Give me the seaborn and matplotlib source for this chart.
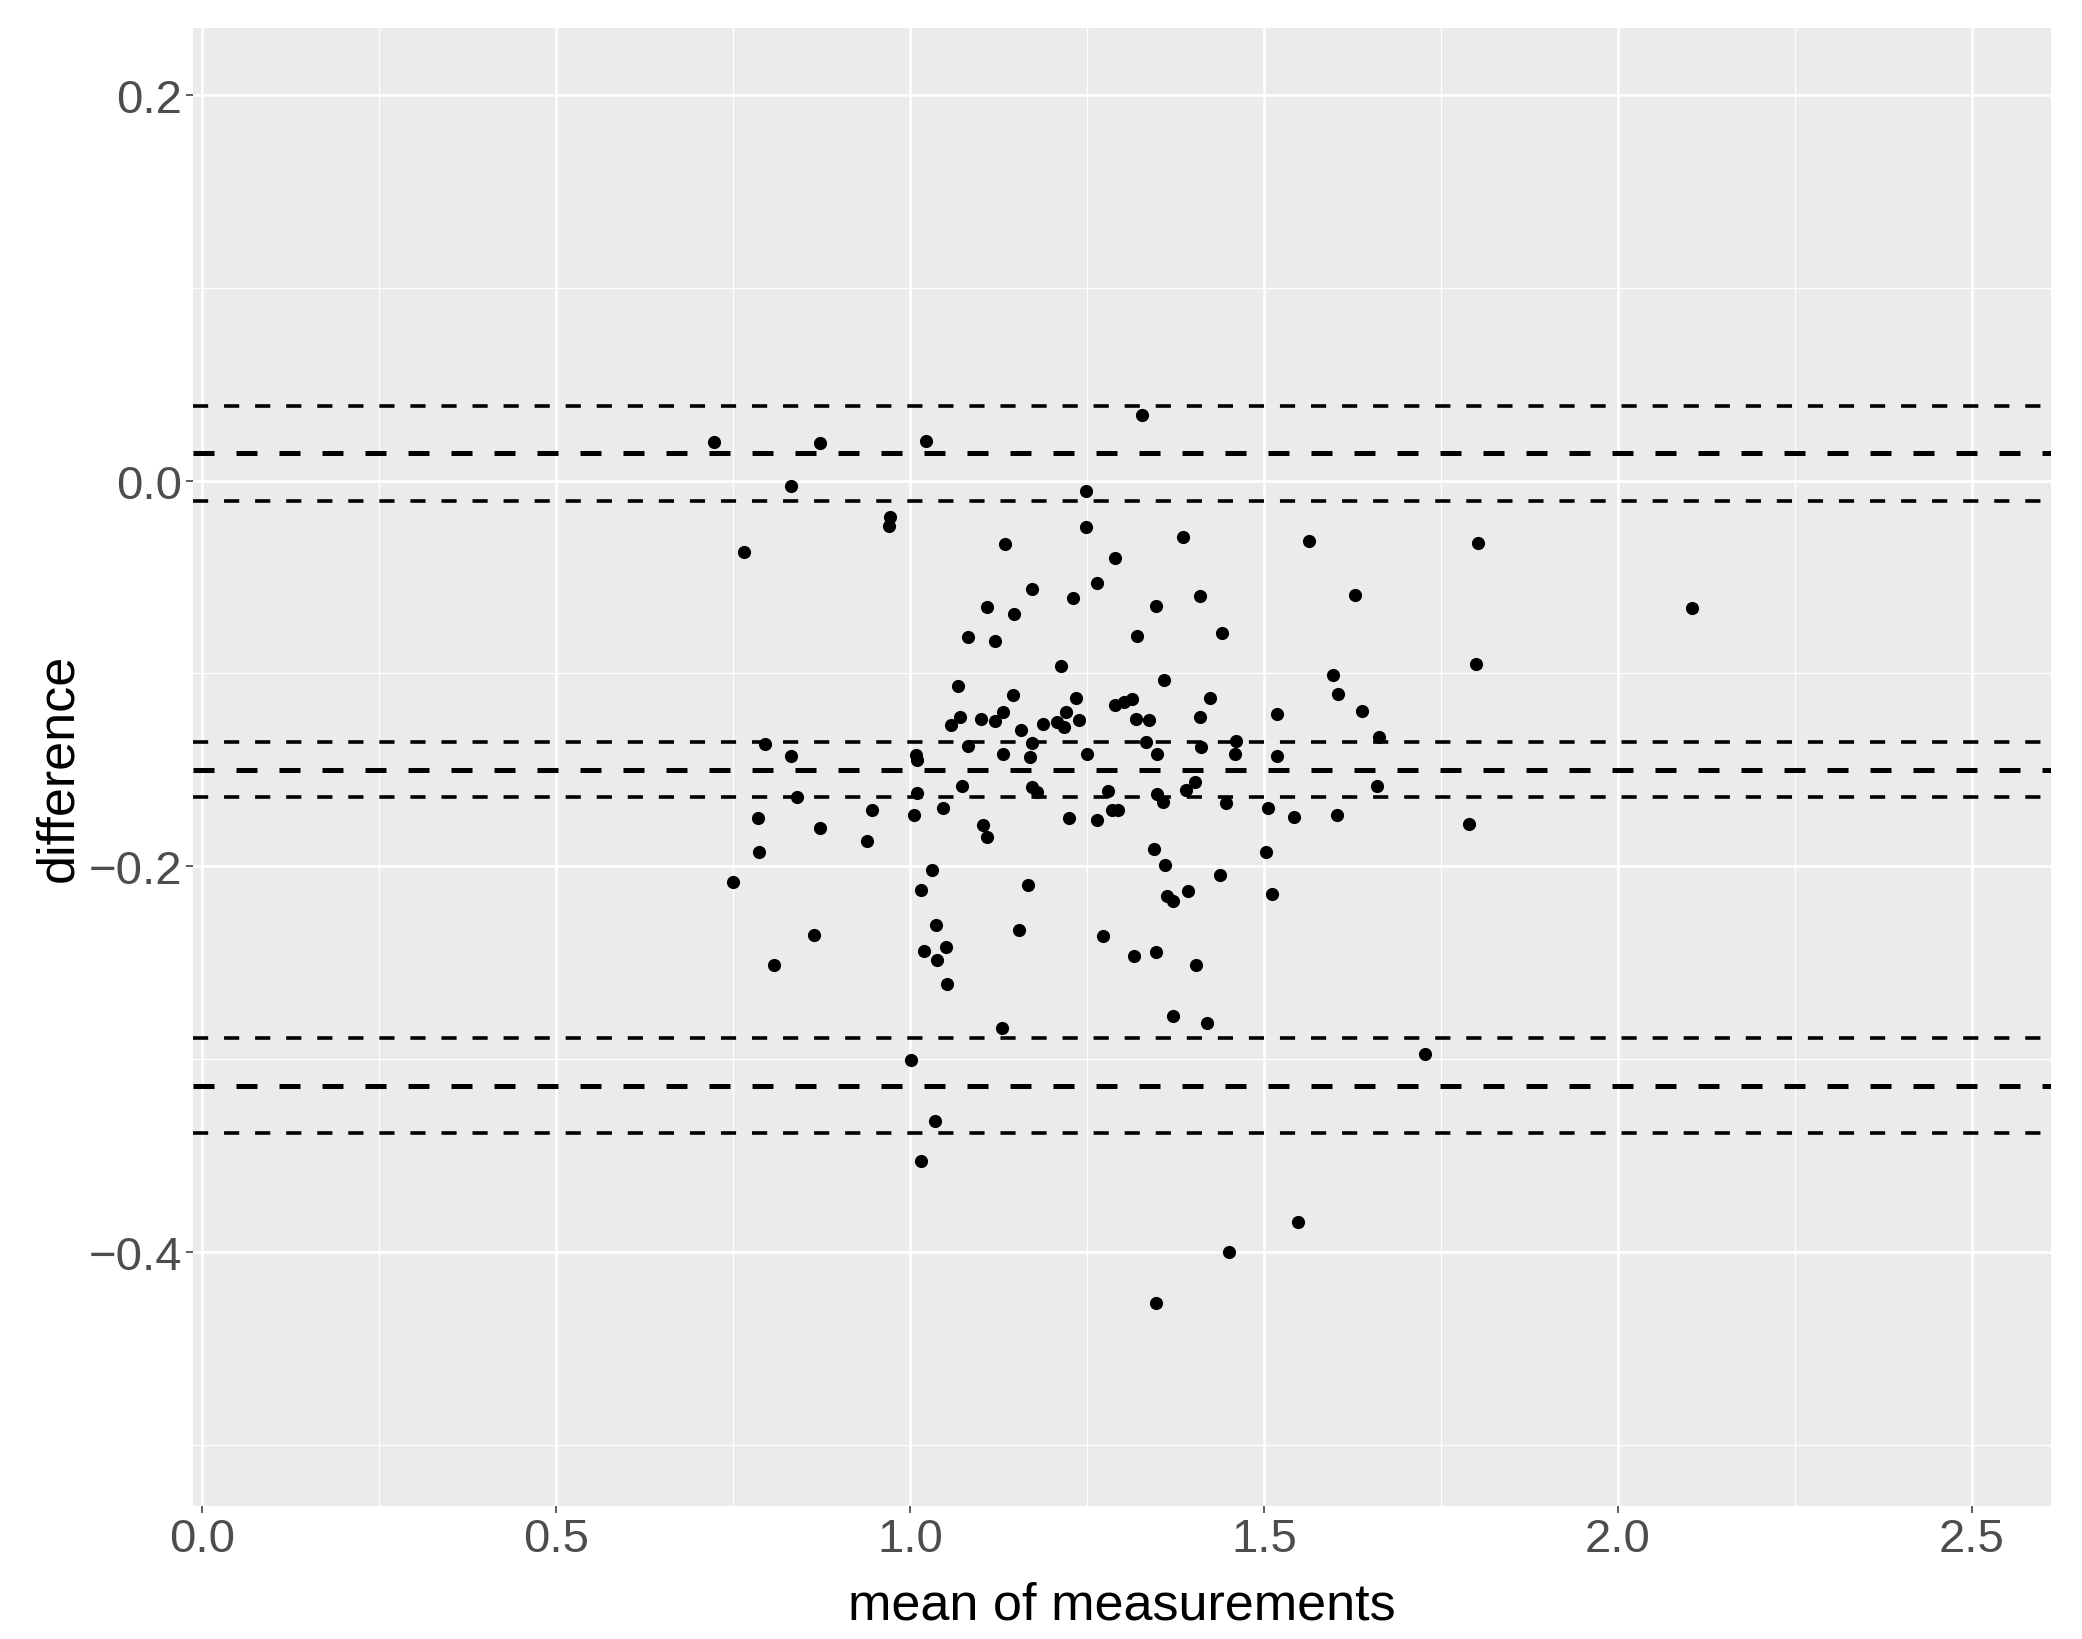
import matplotlib
matplotlib.use("Agg")
import matplotlib.pyplot as plt
import pandas as pd
import seaborn as sns

# Bland-Altman data
mean_of_measurements = [
    0.723, 0.873, 1.022, 0.832, 0.972, 0.970, 0.765,
    0.795, 0.832, 0.841, 0.947, 0.786, 0.873, 0.939, 0.787, 0.750, 0.864, 0.808,
    1.249, 1.249, 1.134, 1.290, 1.264, 1.173, 1.230, 1.109, 1.147, 1.082, 1.120,
    1.213, 1.068, 1.146, 1.235, 1.290, 1.071, 1.058, 1.100, 1.120, 1.131, 1.157,
    1.188, 1.208, 1.217, 1.221, 1.239, 1.082, 1.173, 1.009, 1.131, 1.170, 1.250,
    1.010, 1.073, 1.010, 1.172, 1.180, 1.280, 1.005, 1.047, 1.224, 1.264, 1.285,
    1.294, 1.103, 1.109, 1.031, 1.016, 1.166, 1.037, 1.154, 1.272, 1.020, 1.051,
    1.038, 1.052, 1.130, 1.001, 1.035, 1.016,
    1.327, 1.385, 1.564, 1.410, 1.348, 1.320, 1.441, 1.359, 1.302, 1.314, 1.424,
    1.319, 1.338, 1.409, 1.519, 1.333, 1.461, 1.349, 1.411, 1.459, 1.518,
    1.403, 1.390, 1.349, 1.357, 1.446, 1.505, 1.542, 1.345, 1.503, 1.360, 1.438,
    1.512, 1.393, 1.363, 1.371, 1.317, 1.348, 1.404, 1.371, 1.419,
    1.548, 1.450, 1.348,
    1.802, 1.629, 1.598, 1.800, 1.604, 1.639, 1.662, 1.659, 1.603, 1.790, 1.728,
    2.104,
]
difference = [
    0.0202, 0.0196, 0.0204, -0.0026, -0.0190, -0.0233, -0.0368,
    -0.1366, -0.1430, -0.1639, -0.1706, -0.1749, -0.1801, -0.1869, -0.1927, -0.2080, -0.2355, -0.2510,
    -0.0052, -0.0242, -0.0328, -0.0401, -0.0529, -0.0562, -0.0608, -0.0653, -0.0691, -0.0809, -0.0830,
    -0.0963, -0.1065, -0.1113, -0.1129, -0.1163, -0.1227, -0.1265, -0.1236, -0.1245, -0.1201, -0.1291,
    -0.1262, -0.1253, -0.1279, -0.1201, -0.1241, -0.1374, -0.1360, -0.1421, -0.1418, -0.1435, -0.1418,
    -0.1447, -0.1582, -0.1620, -0.1590, -0.1613, -0.1608, -0.1734, -0.1699, -0.1751, -0.1758, -0.1708,
    -0.1708, -0.1786, -0.1846, -0.2019, -0.2121, -0.2097, -0.2303, -0.2329, -0.2363, -0.2438, -0.2420,
    -0.2486, -0.2611, -0.2840, -0.3003, -0.3320, -0.3527,
    0.0342, -0.0294, -0.0311, -0.0600, -0.0648, -0.0807, -0.0790, -0.1034, -0.1150, -0.1132, -0.1127,
    -0.1236, -0.1241, -0.1224, -0.1210, -0.1357, -0.1349, -0.1418, -0.1380, -0.1418, -0.1430,
    -0.1564, -0.1603, -0.1625, -0.1665, -0.1672, -0.1698, -0.1746, -0.1910, -0.1927, -0.1993, -0.2045,
    -0.2144, -0.2128, -0.2152, -0.2182, -0.2464, -0.2446, -0.2512, -0.2778, -0.2813,
    -0.3843, -0.4002, -0.4265,
    -0.0323, -0.0594, -0.1010, -0.0951, -0.1105, -0.1196, -0.1329, -0.1582, -0.1734, -0.1782, -0.2976,
    -0.0658,
]

# bias and limits of agreement (thick dashes) with their confidence bounds (thin dashes)
agreement_lines = [0.0142, -0.1499, -0.3138]
confidence_lines = [0.0386, -0.0104, -0.1357, -0.1641, -0.2891, -0.3383]

x_ticks = [0.0, 0.5, 1.0, 1.5, 2.0, 2.5]
x_tick_labels = ["0.0", "0.5", "1.0", "1.5", "2.0", "2.5"]
x_minor = [0.25, 0.75, 1.25, 1.75, 2.25]
y_ticks = [0.2, 0.0, -0.2, -0.4]
y_tick_labels = ["0.2", "0.0", "\u22120.2", "\u22120.4"]
y_minor = [0.1, -0.1, -0.3, -0.5]

sns.set_theme(style="darkgrid", rc={
    "axes.facecolor": "#EBEBEB",
    "grid.color": "white",
    "xtick.bottom": True,
    "ytick.left": True,
})
plt.rcParams["font.family"] = ["Liberation Sans", "DejaVu Sans"]

fig, ax = plt.subplots(figsize=(20.82, 16.40), dpi=100)
fig.subplots_adjust(left=193 / 2082, right=2051 / 2082, top=1 - 29 / 1640, bottom=1 - 1507 / 1640)

df = pd.DataFrame({"mean": mean_of_measurements, "diff": difference})
sns.scatterplot(data=df, x="mean", y="diff", color="black", s=90, linewidth=0, ax=ax, zorder=3)

for y in agreement_lines:
    ax.axhline(y, color="black", lw=3.6, linestyle=(0, (4.2, 4.4)), zorder=2)
for y in confidence_lines:
    ax.axhline(y, color="black", lw=2.6, linestyle=(0, (4.2, 4.4)), zorder=2)

ax.set_xlim(-0.0127, 2.6116)
ax.set_ylim(-0.5318, 0.2348)
ax.set_xticks(x_ticks)
ax.set_xticklabels(x_tick_labels)
ax.set_xticks(x_minor, minor=True)
ax.set_yticks(y_ticks)
ax.set_yticklabels(y_tick_labels)
ax.set_yticks(y_minor, minor=True)

ax.grid(which="major", color="white", lw=1.8)
ax.grid(which="minor", color="white", lw=0.9)
ax.set_axisbelow(True)
for s in ax.spines.values():
    s.set_visible(False)

ax.tick_params(which="major", length=5, width=1.1, color="#333333",
               labelsize=34, labelcolor="#4D4D4D", pad=3)
ax.tick_params(which="minor", length=0)

ax.set_xlabel("mean of measurements", fontsize=37.5, color="black", labelpad=14)
ax.set_ylabel("difference", fontsize=37.5, color="black")
ax.yaxis.set_label_coords(-0.059, 0.5)

fig.savefig("out.png", dpi=100)
